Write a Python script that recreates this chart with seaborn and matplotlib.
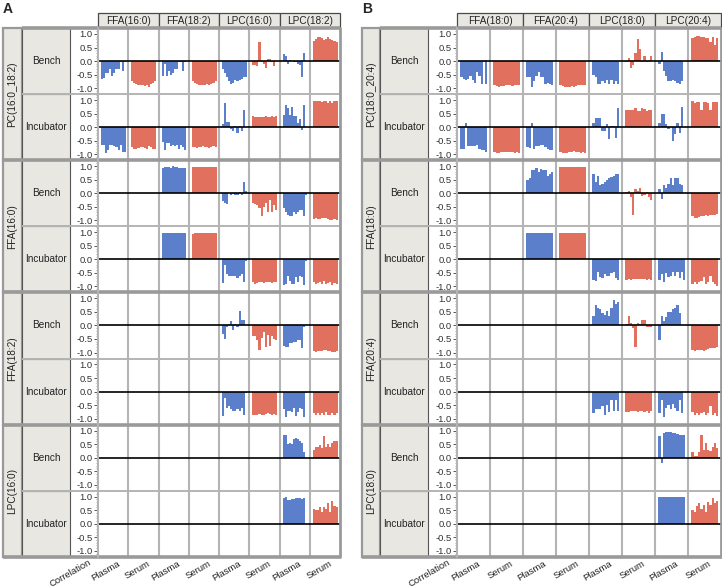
import numpy as np
import pandas as pd
import matplotlib
matplotlib.use("Agg")
import matplotlib.pyplot as plt
from matplotlib.patches import Rectangle
from matplotlib.ticker import MultipleLocator
import seaborn as sns

# ---- data: correlation per sample, 12 bars per cell ----
MATRICES = ["Plasma", "Serum"]
CONDITIONS = ["Bench", "Incubator"]

A_SPECIES = ["FFA(16:0)", "FFA(18:2)", "LPC(16:0)", "LPC(18:2)"]
A_ROWS = ["PC(16:0_18:2)", "FFA(16:0)", "FFA(18:2)", "LPC(16:0)"]
B_SPECIES = ["FFA(18:0)", "FFA(20:4)", "LPC(18:0)", "LPC(20:4)"]
B_ROWS = ["PC(18:0_20:4)", "FFA(18:0)", "FFA(20:4)", "LPC(18:0)"]

# panel A, row PC(16:0_18:2): FFA(16:0) P/S, FFA(18:2) P/S, LPC(16:0) P/S, LPC(18:2) P/S
a_pc_bench = [
    [-0.65, -0.62, -0.45, -0.45, -0.3, -0.55, -0.45, -0.28, -0.28, -0.02, -0.38, -0.02],
    [-0.75, -0.8, -0.85, -0.9, -0.88, -0.9, -0.92, -0.88, -0.95, -0.85, -0.8, -0.75],
    [-0.55, -0.1, -0.55, -0.35, -0.5, -0.45, -0.3, -0.3, -0.05, -0.02, -0.35, -0.02],
    [-0.75, -0.8, -0.85, -0.88, -0.9, -0.9, -0.88, -0.85, -0.9, -0.85, -0.8, -0.75],
    [-0.3, -0.45, -0.6, -0.75, -0.85, -0.8, -0.7, -0.75, -0.7, -0.65, -0.6, -0.6],
    [-0.15, -0.15, -0.2, 0.7, -0.05, -0.1, -0.25, 0.08, 0.08, -0.05, -0.2, 0.0],
    [0.25, 0.2, -0.1, 0.05, 0.0, -0.05, -0.05, -0.1, -0.15, -0.6, 0.3, 0.0],
    [0.75, 0.8, 0.9, 0.88, 0.85, 0.78, 0.8, 0.9, 0.8, 0.78, 0.75, 0.72],
]
a_pc_incubator = [
    [-0.65, -0.65, -0.95, -0.85, -0.65, -0.65, -0.7, -0.75, -0.85, -0.65, -0.9, -0.9],
    [-0.75, -0.82, -0.8, -0.78, -0.75, -0.72, -0.78, -0.8, -0.7, -0.75, -0.8, -0.82],
    [-0.55, -0.85, -0.6, -0.6, -0.7, -0.65, -0.7, -0.65, -0.8, -0.65, -0.75, -0.85],
    [-0.75, -0.75, -0.78, -0.75, -0.72, -0.7, -0.72, -0.75, -0.78, -0.75, -0.7, -0.75],
    [0.1, 0.9, 0.2, 0.2, -0.05, -0.15, 0.05, -0.2, 0.05, -0.15, 0.65, 0.0],
    [0.4, 0.38, 0.38, 0.37, 0.36, 0.38, 0.4, 0.38, 0.38, 0.42, 0.38, 0.42],
    [0.45, 0.8, 0.7, 0.45, 0.75, 0.4, 0.4, 0.15, 0.3, -0.1, 0.8, 0.0],
    [0.95, 0.97, 0.95, 0.95, 0.93, 0.97, 0.95, 0.9, 0.95, 0.88, 0.95, 0.97],
]
# panel A, row FFA(16:0): FFA(18:2), LPC(16:0), LPC(18:2)
a_ffa160_bench = [
    [0.95, 0.98, 0.97, 0.97, 0.95, 0.99, 0.98, 0.98, 0.95, 0.95, 0.93, 0.93],
    [0.97, 0.98, 0.98, 0.97, 0.98, 0.98, 0.97, 0.98, 0.97, 0.98, 0.98, 0.96],
    [-0.3, -0.35, -0.4, 0.0, -0.05, -0.02, -0.05, -0.05, 0.05, -0.05, 0.4, 0.1],
    [-0.35, -0.4, -0.45, -0.55, -0.85, -0.5, -0.35, -0.7, -0.25, -0.7, -0.45, -0.6],
    [-0.55, -0.7, -0.8, -0.85, -0.85, -0.7, -0.75, -0.7, -0.6, -0.6, -0.85, -0.05],
    [-0.95, -0.93, -0.95, -0.95, -0.93, -0.92, -0.93, -0.95, -0.97, -0.97, -0.96, -0.98],
]
a_ffa160_incubator = [
    [0.97, 0.97, 0.98, 0.98, 0.98, 0.98, 0.98, 0.98, 0.97, 0.98, 0.98, 0.97],
    [0.95, 0.96, 0.96, 0.96, 0.96, 0.96, 0.96, 0.96, 0.96, 0.96, 0.97, 0.96],
    [-0.88, -0.2, -0.55, -0.6, -0.6, -0.6, -0.6, -0.7, -0.6, -0.55, -0.85, -0.05],
    [-0.85, -0.9, -0.88, -0.85, -0.85, -0.88, -0.85, -0.82, -0.85, -0.88, -0.85, -0.85],
    [-0.95, -0.9, -0.6, -0.8, -0.9, -0.9, -0.65, -0.85, -0.6, -0.65, -0.95, -0.05],
    [-0.85, -0.9, -0.88, -0.85, -0.9, -0.8, -0.92, -0.88, -0.85, -0.95, -0.88, -0.9],
]
# panel A, row FFA(18:2): LPC(16:0), LPC(18:2)
a_ffa182_bench = [
    [-0.3, -0.5, -0.05, 0.05, 0.15, -0.15, 0.05, -0.05, 0.55, 0.2, 0.2, 0.0],
    [-0.4, -0.4, -0.55, -0.9, -0.45, -0.25, -0.8, -0.35, -0.75, -0.4, -0.5, -0.55],
    [-0.75, -0.8, -0.8, -0.65, -0.65, -0.6, -0.6, -0.55, -0.55, -0.85, -0.05, 0.0],
    [-0.95, -0.97, -0.95, -0.93, -0.93, -0.92, -0.9, -0.93, -0.95, -0.97, -0.98, -0.95],
]
a_ffa182_incubator = [
    [-0.9, -0.25, -0.6, -0.55, -0.65, -0.7, -0.7, -0.65, -0.7, -0.6, -0.85, -0.05],
    [-0.85, -0.88, -0.85, -0.82, -0.85, -0.85, -0.83, -0.8, -0.82, -0.85, -0.82, -0.85],
    [-0.65, -0.95, -0.7, -0.7, -0.75, -0.6, -0.9, -0.75, -0.6, -0.65, -0.95, -0.05],
    [-0.8, -0.85, -0.8, -0.85, -0.8, -0.85, -0.75, -0.85, -0.85, -0.8, -0.85, -0.8],
]
# panel A, row LPC(16:0): LPC(18:2)
a_lpc160_bench = [
    [0.85, 0.85, 0.5, 0.55, 0.5, 0.7, 0.72, 0.7, 0.62, 0.55, 0.2, 0.0],
    [0.3, 0.4, 0.4, 0.45, 0.35, 0.8, 0.4, 0.5, 0.4, 0.55, 0.6, 0.6],
]
a_lpc160_incubator = [
    [0.95, 0.97, 0.88, 0.88, 0.92, 0.93, 0.95, 0.95, 0.95, 0.93, 0.95, 0.0],
    [0.55, 0.5, 0.5, 0.6, 0.45, 0.6, 0.55, 0.75, 0.45, 0.85, 0.65, 0.6],
]

# panel B, row PC(18:0_20:4): FFA(18:0) P/S, FFA(20:4) P/S, LPC(18:0) P/S, LPC(20:4) P/S
b_pc_bench = [
    [-0.6, -0.65, -0.7, -0.65, -0.55, -0.7, -0.8, -0.4, -0.55, -0.85, -0.02, -0.85],
    [-0.9, -0.93, -0.95, -0.93, -0.92, -0.9, -0.88, -0.9, -0.92, -0.9, -0.88, -0.9],
    [-0.6, -0.6, -0.95, -0.75, -0.55, -0.4, -0.6, -0.6, -0.85, -0.8, -0.85, -0.9],
    [-0.9, -0.93, -0.95, -0.95, -0.95, -0.93, -0.95, -0.92, -0.9, -0.9, -0.88, -0.9],
    [-0.5, -0.6, -0.85, -0.85, -0.75, -0.8, -0.7, -0.85, -0.7, -0.85, -0.75, -0.85],
    [-0.05, 0.12, -0.25, -0.15, 0.3, 0.8, 0.45, -0.05, 0.2, -0.05, 0.05, 0.2],
    [-0.1, 0.35, -0.35, -0.55, -0.75, -0.75, -0.7, -0.75, -0.8, -0.85, -0.75, 0.0],
    [0.85, 0.9, 0.92, 0.92, 0.9, 0.88, 0.85, 0.85, 0.7, 0.88, 0.6, 0.85],
]
b_pc_incubator = [
    [-0.8, -0.8, 0.15, -0.7, -0.7, -0.7, -0.7, -0.65, -0.8, -0.85, -0.85, -0.9],
    [-0.93, -0.95, -0.95, -0.93, -0.92, -0.9, -0.9, -0.93, -0.92, -0.95, -0.92, -0.95],
    [-0.75, -0.78, 0.15, -0.8, -0.7, -0.7, -0.65, -0.65, -0.75, -0.8, -0.85, -0.85],
    [-0.93, -0.95, -0.95, -0.95, -0.93, -0.9, -0.88, -0.9, -0.93, -0.95, -0.93, -0.95],
    [0.15, 0.35, 0.35, 0.35, -0.15, -0.15, 0.1, -0.45, 0.05, 0.05, -0.4, 0.7],
    [0.65, 0.65, 0.65, 0.62, 0.7, 0.6, 0.6, 0.72, 0.68, 0.6, 0.65, 0.62],
    [0.15, 0.5, 0.5, 0.1, -0.05, 0.0, -0.5, -0.25, 0.15, -0.2, 0.75, 0.0],
    [0.95, 0.9, 0.92, 0.92, 0.65, 0.92, 0.93, 0.9, 0.65, 0.92, 0.93, 0.92],
]
# panel B, row FFA(18:0): FFA(20:4), LPC(18:0), LPC(20:4)
b_ffa180_bench = [
    [0.5, 0.55, 0.85, 0.85, 0.95, 0.8, 0.9, 0.85, 0.85, 0.65, 0.7, 0.8],
    [0.97, 0.98, 0.97, 0.98, 0.98, 0.98, 0.97, 0.98, 0.98, 0.98, 0.97, 0.97],
    [0.7, 0.4, 0.65, 0.3, 0.35, 0.4, 0.5, 0.55, 0.6, 0.65, 0.7, 0.7],
    [0.05, 0.1, -0.15, -0.8, 0.15, 0.1, 0.2, -0.1, -0.05, 0.05, -0.15, -0.25],
    [0.15, -0.2, 0.3, 0.2, 0.35, 0.55, 0.3, 0.55, 0.55, 0.35, 0.3, 0.0],
    [-0.85, -0.9, -0.9, -0.88, -0.85, -0.85, -0.82, -0.85, -0.8, -0.8, -0.8, -0.78],
]
b_ffa180_incubator = [
    [0.97, 0.97, 0.97, 0.98, 0.97, 0.96, 0.98, 0.97, 0.98, 0.97, 0.97, 0.97],
    [0.97, 0.98, 0.97, 0.97, 0.98, 0.97, 0.98, 0.97, 0.98, 0.98, 0.97, 0.98],
    [-0.75, -0.8, -0.45, -0.65, -0.7, -0.55, -0.6, -0.6, -0.5, -0.45, -0.7, -0.75],
    [-0.75, -0.72, -0.75, -0.72, -0.72, -0.73, -0.73, -0.72, -0.72, -0.75, -0.72, -0.75],
    [-0.75, -0.55, -0.85, -0.5, -0.65, -0.6, -0.45, -0.6, -0.45, -0.7, -0.45, -0.75],
    [-0.9, -0.85, -0.9, -0.85, -0.8, -0.65, -0.9, -0.85, -0.6, -0.85, -0.9, -1.0],
]
# panel B, row FFA(20:4): LPC(18:0), LPC(20:4)
b_ffa204_bench = [
    [0.35, 0.75, 0.65, 0.6, 0.45, 0.4, 0.55, 0.35, 0.65, 0.95, 0.8, 0.85],
    [0.05, 0.35, 0.1, -0.1, -0.8, 0.1, 0.05, 0.2, 0.2, -0.05, -0.05, -0.05],
    [-0.55, 0.35, 0.15, 0.3, 0.5, 0.5, 0.6, 0.65, 0.75, 0.45, 0.0, 0.0],
    [-0.9, -0.95, -0.92, -0.92, -0.9, -0.95, -0.9, -0.88, -0.85, -0.85, -0.82, -0.8],
]
b_ffa204_incubator = [
    [-0.8, -0.65, -0.65, -0.65, -0.55, -0.85, -0.5, -0.75, -0.3, -0.7, -0.3, -0.7],
    [-0.75, -0.75, -0.72, -0.72, -0.72, -0.75, -0.72, -0.72, -0.75, -0.72, -0.8, -0.72],
    [-0.8, -0.3, -0.95, -0.6, -0.5, -0.65, -0.45, -0.6, -0.7, -0.3, -0.8, 0.0],
    [-0.75, -0.85, -0.8, -0.85, -0.8, -0.75, -0.85, -0.8, -0.55, -0.85, -0.8, -0.9],
]
# panel B, row LPC(18:0): LPC(20:4)
b_lpc180_bench = [
    [0.8, -0.2, 0.9, 0.95, 0.95, 0.93, 0.92, 0.9, 0.88, 0.85, 0.85, 0.85],
    [0.2, 0.05, 0.05, 0.2, 0.85, 0.3, 0.55, 0.3, 0.25, 0.4, 0.55, 0.35],
]
b_lpc180_incubator = [
    [0.98, 0.98, 0.98, 0.99, 0.99, 0.98, 0.98, 0.98, 0.97, 0.98, 0.97, 0.98],
    [0.5, 0.45, 0.65, 0.75, 0.55, 0.7, 0.45, 0.8, 0.7, 0.95, 0.75, 0.85],
]

A_DATA = [(a_pc_bench, a_pc_incubator), (a_ffa160_bench, a_ffa160_incubator),
          (a_ffa182_bench, a_ffa182_incubator), (a_lpc160_bench, a_lpc160_incubator)]
B_DATA = [(b_pc_bench, b_pc_incubator), (b_ffa180_bench, b_ffa180_incubator),
          (b_ffa204_bench, b_ffa204_incubator), (b_lpc180_bench, b_lpc180_incubator)]

# ---- style ----
BLUE = "#5b7fca"
RED = "#e2705f"
STRIP = "#e8e7e1"
GRID = "#b4b4b4"
W, H = 722, 588

sns.set_style("white")
plt.rcParams["font.family"] = ["Liberation Sans", "DejaVu Sans"]


def row_frame(cells, start_col):
    recs = []
    for j, vals in enumerate(cells):
        col = start_col + j
        n = len(vals)
        for i, v in enumerate(vals):
            recs.append((col + 0.1 + (i + 0.5) * 0.82 / n, v, MATRICES[col % 2]))
    return pd.DataFrame(recs, columns=["pos", "r", "matrix"])


fig = plt.figure(figsize=(W / 100, H / 100), dpi=100)
bg = fig.add_axes([0, 0, 1, 1], zorder=0)
fg = fig.add_axes([0, 0, 1, 1], zorder=10)
for a in (bg, fg):
    a.set_xlim(0, W)
    a.set_ylim(H, 0)
    a.axis("off")
    a.patch.set_alpha(0)

Y_TOP, ROW_H, HEAD_TOP = 28, 66.1, 13

panels = [
    dict(letter="A", xo=3, xi=22, xt=70, x0=98, x1=340, species=A_SPECIES, rows=A_ROWS, data=A_DATA),
    dict(letter="B", xo=362, xi=380, xt=428, x0=457, x1=721, species=B_SPECIES, rows=B_ROWS, data=B_DATA),
]

for p in panels:
    xo, xi, xt, x0, x1 = p["xo"], p["xi"], p["xt"], p["x0"], p["x1"]
    sw = (x1 - x0) / 4
    cw = sw / 2
    fg.text(xo, 2, p["letter"], fontsize=10, fontweight="bold", ha="left", va="top")

    # species header strips
    for k, name in enumerate(p["species"]):
        bg.add_patch(Rectangle((x0 + k * sw, HEAD_TOP), sw, Y_TOP - HEAD_TOP,
                               fc=STRIP, ec="#4a4a4a", lw=0.9))
        fg.text(x0 + (k + 0.5) * sw, (HEAD_TOP + Y_TOP) / 2 + 0.5, name,
                fontsize=7.2, ha="center", va="center", color="#222")

    for g, (row_name, pair) in enumerate(zip(p["rows"], p["data"])):
        gy = Y_TOP + g * 2 * ROW_H
        bg.add_patch(Rectangle((xo, gy), xi - xo, 2 * ROW_H, fc=STRIP, ec="#999", lw=1.6))
        fg.text((xo + xi) / 2, gy + ROW_H, row_name, rotation=90, fontsize=7.2,
                ha="center", va="center", color="#222")
        for c, cond in enumerate(CONDITIONS):
            ry = gy + c * ROW_H
            bg.add_patch(Rectangle((xi, ry), xt - xi, ROW_H, fc=STRIP, ec="#555", lw=0.8))
            fg.text((xi + xt) / 2, ry + ROW_H / 2, cond, fontsize=7.2,
                    ha="center", va="center", color="#222")

            ax = fig.add_axes([x0 / W, 1 - (ry + ROW_H) / H, (x1 - x0) / W, ROW_H / H], zorder=5)
            df = row_frame(pair[c], 2 * g)
            sns.barplot(data=df, x="pos", y="r", hue="matrix", hue_order=MATRICES,
                        palette={"Plasma": BLUE, "Serum": RED}, native_scale=True,
                        width=1.0, dodge=False, errorbar=None, saturation=1,
                        legend=False, linewidth=0, edgecolor="none", ax=ax)
            for v in range(1, 8):
                ax.axvline(v, color=GRID, lw=1.5, zorder=0)
            ax.axhline(0, color="black", lw=1.2, zorder=4)
            ax.set_xlim(0, 8)
            ax.set_ylim(-1.22, 1.22)
            ax.set_xticks([])
            ax.set_xlabel("")
            ax.set_ylabel("")
            ax.set_yticks([-1.0, -0.5, 0.0, 0.5, 1.0])
            ax.set_yticklabels(["-1.0", "-0.5", "0.0", "0.5", "1.0"])
            ax.yaxis.set_minor_locator(MultipleLocator(0.1))
            ax.tick_params(axis="y", which="major", length=3, width=0.7, color="#555",
                           labelsize=6.8, labelcolor="#333", pad=1, left=True)
            ax.tick_params(axis="y", which="minor", length=1.5, width=0.5, color="#888", left=True)
            for s in ax.spines.values():
                s.set_visible(False)

    # frame lines
    for k in range(9):
        yy = Y_TOP + k * ROW_H
        if k % 2 == 0:
            fg.plot([xo if k > 0 else xi, x1], [yy, yy], color="#9a9a9a", lw=2.6,
                    solid_capstyle="butt")
        else:
            fg.plot([xi, x1], [yy, yy], color=GRID, lw=1.4, solid_capstyle="butt")
    y_end = Y_TOP + 8 * ROW_H
    fg.plot([x0, x0], [Y_TOP, y_end], color=GRID, lw=1.5)
    fg.plot([x1, x1], [Y_TOP, y_end], color="#9a9a9a", lw=2.0)

    # bottom labels
    fg.text(x0 - 10, y_end + 1, "Correlation", rotation=30, rotation_mode="anchor",
            ha="right", va="top", fontsize=6.8, color="#222")
    for col in range(8):
        fg.text(x0 + (col + 0.5) * cw + 4, y_end + 2, MATRICES[col % 2], rotation=30,
                rotation_mode="anchor", ha="right", va="top", fontsize=6.8, color="#222")

fig.savefig("out.png", dpi=100)
